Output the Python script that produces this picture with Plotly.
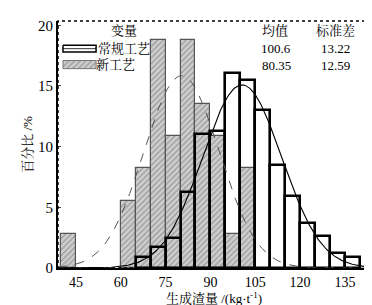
import numpy as np
import plotly.graph_objects as go

# ---- data ----
bin_width = 5
new_bin_left = [40, 60, 65, 70, 75, 80, 85, 90, 95, 100]
new_pct = [2.8, 5.5, 8.2, 18.8, 10.9, 18.8, 13.5, 10.9, 2.8, 8.2]
conv_bin_left = [65, 70, 75, 80, 85, 90, 95, 100, 105, 110, 115, 120, 125, 130, 135]
conv_pct = [0.9, 1.7, 2.5, 6.3, 11.0, 11.3, 16.1, 15.5, 13.0, 8.5, 5.9, 3.7, 2.6, 1.2, 0.9]
series_names = ["常规工艺", "新工艺"]
means = [100.6, 80.35]
sds = [13.22, 12.59]
mean_labels = ["100.6", "80.35"]
sd_labels = ["13.22", "12.59"]
x_ticks = [45, 60, 75, 90, 105, 120, 135]
y_ticks = [0, 5, 10, 15, 20]

FONT = "'Times New Roman', 'Liberation Serif', 'Noto Serif CJK SC', 'Noto Sans CJK SC', serif"

fig = go.Figure()

fig.add_trace(go.Bar(
    x=[b + bin_width / 2 for b in new_bin_left], y=new_pct, width=bin_width,
    name=series_names[1], showlegend=False,
    marker=dict(color="#c9c9c9",
                pattern=dict(shape="/", fgcolor="#6a6a6a", bgcolor="#cfcfcf", size=4, solidity=0.35),
                line=dict(color="#555555", width=1.2)),
))
fig.add_trace(go.Bar(
    x=[b + bin_width / 2 for b in conv_bin_left], y=conv_pct, width=bin_width,
    name=series_names[0], showlegend=False,
    marker=dict(color="rgba(0,0,0,0)", line=dict(color="black", width=2.6)),
))

xs = np.linspace(39, 143, 300)
for m, s, style in [(means[1], sds[1], dict(color="#555555", width=1, dash="dash")),
                    (means[0], sds[0], dict(color="black", width=1.1))]:
    ys = bin_width * 100 / (s * np.sqrt(2 * np.pi)) * np.exp(-0.5 * ((xs - m) / s) ** 2)
    fig.add_trace(go.Scatter(x=xs, y=ys, mode="lines", line=style, showlegend=False, hoverinfo="skip"))

# legend swatches on an invisible overlay axis
sw_x = [0.016, 0.122, 0.122, 0.016, 0.016]
fig.add_trace(go.Scatter(x=sw_x, y=[0.902, 0.902, 0.874, 0.874, 0.902],
                         xaxis="x2", yaxis="y2", mode="lines", line=dict(color="black", width=1.5),
                         fill="toself", fillcolor="white", showlegend=False, hoverinfo="skip"))
fig.add_trace(go.Scatter(x=[0.016, 0.122], y=[0.888, 0.888],
                         xaxis="x2", yaxis="y2", mode="lines", line=dict(color="black", width=0.8),
                         showlegend=False, hoverinfo="skip"))
fig.add_trace(go.Scatter(x=sw_x, y=[0.84, 0.84, 0.807, 0.807, 0.84],
                         xaxis="x2", yaxis="y2", mode="lines", line=dict(color="#777", width=1),
                         fill="toself", fillcolor="#cfcfcf",
                         fillpattern=dict(shape="/", fgcolor="#6a6a6a", bgcolor="#cfcfcf", size=4, solidity=0.35),
                         showlegend=False, hoverinfo="skip"))

ann = []
ann.append(dict(x=0.21, y=0.962, text="变量"))
ann.append(dict(x=0.21, y=0.888, text=series_names[0]))
ann.append(dict(x=0.183, y=0.822, text=series_names[1]))
ann.append(dict(x=0.695, y=0.962, text="均值"))
ann.append(dict(x=0.89, y=0.962, text="标准差"))
ann.append(dict(x=0.70, y=0.888, text=mean_labels[0]))
ann.append(dict(x=0.70, y=0.82, text=mean_labels[1]))
ann.append(dict(x=0.89, y=0.888, text=sd_labels[0]))
ann.append(dict(x=0.89, y=0.82, text=sd_labels[1]))
annotations = [dict(xref="paper", yref="paper", showarrow=False, font=dict(family=FONT, size=13, color="black"),
                    xanchor="center", yanchor="middle", **a) for a in ann]

fig.update_layout(
    width=372, height=305,
    margin=dict(l=50, r=10, t=10, b=36),
    paper_bgcolor="white", plot_bgcolor="white",
    barmode="overlay", bargap=0,
    font=dict(family=FONT, size=14, color="black"),
    xaxis=dict(range=[39, 143.4], tickvals=x_ticks, ticks="outside", ticklen=0, showgrid=False, zeroline=False,
               showline=True, linecolor="black", linewidth=2,
               title=dict(text="生成渣量 /(kg·t<sup>-1</sup>)", font=dict(size=13), standoff=4),
               tickfont=dict(size=14)),
    yaxis=dict(range=[0, 20.35], tickvals=y_ticks, ticks="inside", ticklen=3, showgrid=False, zeroline=False,
               showline=True, linecolor="black", linewidth=2,
               title=dict(text="百分比 /%", font=dict(size=13), standoff=2),
               tickfont=dict(size=15)),
    xaxis2=dict(range=[0, 1], overlaying="x", visible=False, fixedrange=True),
    yaxis2=dict(range=[0, 1], overlaying="y", visible=False, fixedrange=True),
    annotations=annotations,
    shapes=[dict(type="rect", xref="paper", yref="paper", x0=0, y0=0, x1=1, y1=1,
                 line=dict(color="black", width=1.5, dash="dot"))],
)

fig.write_html("out.html")
